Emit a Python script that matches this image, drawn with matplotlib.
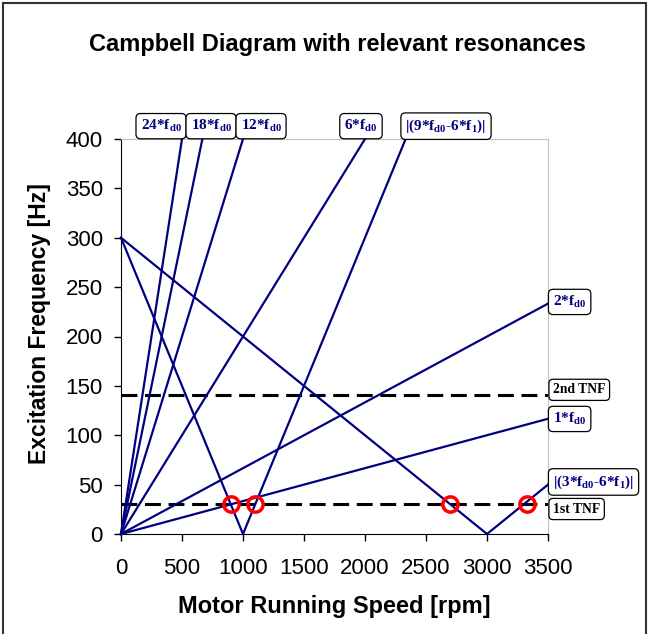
import matplotlib.pyplot as plt
from matplotlib.patches import Rectangle

plt.rcParams['font.family'] = ['Liberation Sans', 'DejaVu Sans']
plt.rcParams['mathtext.fontset'] = 'custom'
plt.rcParams['mathtext.rm'] = 'Liberation Serif:bold'
plt.rcParams['mathtext.it'] = 'Liberation Serif:bold'
plt.rcParams['mathtext.bf'] = 'Liberation Serif:bold'

# excitation orders (rpm, Hz)
rpm_1fd0 = [0, 3500]
hz_1fd0 = [0, 116.7]
rpm_2fd0 = [0, 3500]
hz_2fd0 = [0, 233.3]
rpm_6fd0 = [0, 2000]
hz_6fd0 = [0, 400]
rpm_12fd0 = [0, 1000]
hz_12fd0 = [0, 400]
rpm_18fd0 = [0, 667]
hz_18fd0 = [0, 400]
rpm_24fd0 = [0, 500]
hz_24fd0 = [0, 400]
rpm_9fd0_6f1 = [0, 1000, 2333]
hz_9fd0_6f1 = [300, 0, 400]
rpm_3fd0_6f1 = [0, 3000, 3500]
hz_3fd0_6f1 = [300, 0, 50]

# torsional natural frequencies
tnf1 = 30
tnf2 = 141

# resonance points
res_rpm = [900, 1100, 2700, 3330]
res_hz = [30, 30, 30, 30]

# labels: text, x, y
top_labels = [('24*f$_{d0}$', 328), ('18*f$_{d0}$', 738), ('12*f$_{d0}$', 1148),
              ('6*f$_{d0}$', 1967), ('|(9*f$_{d0}$-6*f$_{1}$)|', 2664)]
right_labels = [('2*f$_{d0}$', 235, '#000080'), ('2nd TNF', 146, 'black'),
                ('1*f$_{d0}$', 116.5, '#000080'), ('|(3*f$_{d0}$-6*f$_{1}$)|', 52.7, '#000080'),
                ('1st TNF', 25.3, 'black')]

fig = plt.figure(figsize=(6.48, 6.34), dpi=100)
ax = fig.add_axes([121 / 648, 100 / 634, 427 / 648, 395 / 634])

navy = '#000080'
for xs, ys in [(rpm_1fd0, hz_1fd0), (rpm_2fd0, hz_2fd0), (rpm_6fd0, hz_6fd0),
               (rpm_12fd0, hz_12fd0), (rpm_18fd0, hz_18fd0), (rpm_24fd0, hz_24fd0),
               (rpm_9fd0_6f1, hz_9fd0_6f1), (rpm_3fd0_6f1, hz_3fd0_6f1)]:
    ax.plot(xs, ys, color=navy, lw=1.6, clip_on=False, zorder=3)

for y in [tnf1, tnf2]:
    ax.plot([0, 3500], [y, y], color='black', lw=2.2, dashes=(5.2, 2.5), zorder=2)

ax.plot(res_rpm, res_hz, 'o', ms=11, mfc='none', mec='red', mew=2.5, zorder=5, clip_on=False)

box = dict(boxstyle='round,pad=0.3,rounding_size=0.3', fc='white', ec='black', lw=0.9)
for txt, x in top_labels:
    ax.text(x, 413, txt, ha='center', va='center', color=navy, fontsize=11,
            fontweight='bold', family='Liberation Serif', bbox=box, clip_on=False, zorder=6)
for txt, y, c in right_labels:
    fs = 9.8 if 'TNF' in txt else 11
    ax.text(3541, y, txt, ha='left', va='center', color=c, fontsize=fs,
            fontweight='bold', family='Liberation Serif', bbox=box, clip_on=False, zorder=6)

ax.set_xlim(0, 3500)
ax.set_ylim(0, 400)
ax.set_xticks(range(0, 3501, 500))
ax.set_yticks(range(0, 401, 50))
ax.tick_params(axis='x', direction='out', length=5, width=1, labelsize=16, pad=12)
ax.tick_params(axis='y', direction='out', length=5, width=1, labelsize=16, pad=8)
for s in ['top', 'right']:
    ax.spines[s].set_color('#c0c0c0')
for s in ['left', 'bottom']:
    ax.spines[s].set_color('black')

ax.set_xlabel('Motor Running Speed [rpm]', fontsize=17, fontweight='bold', labelpad=12)
fig.text(40 / 648, 1 - 324 / 634, 'Excitation Frequency [Hz]', rotation=90, ha='center',
         va='center', fontsize=16.5, fontweight='bold')
fig.text(337 / 648, 1 - 45 / 634, 'Campbell Diagram with relevant resonances', ha='center',
         va='center', fontsize=17, fontweight='bold')

fig.patches.append(Rectangle((3 / 648, -0.05), 643 / 648, 1.05 - 3 / 634, transform=fig.transFigure,
                             fill=False, ec='#333333', lw=1.5))

fig.savefig('out.png', dpi=100)
